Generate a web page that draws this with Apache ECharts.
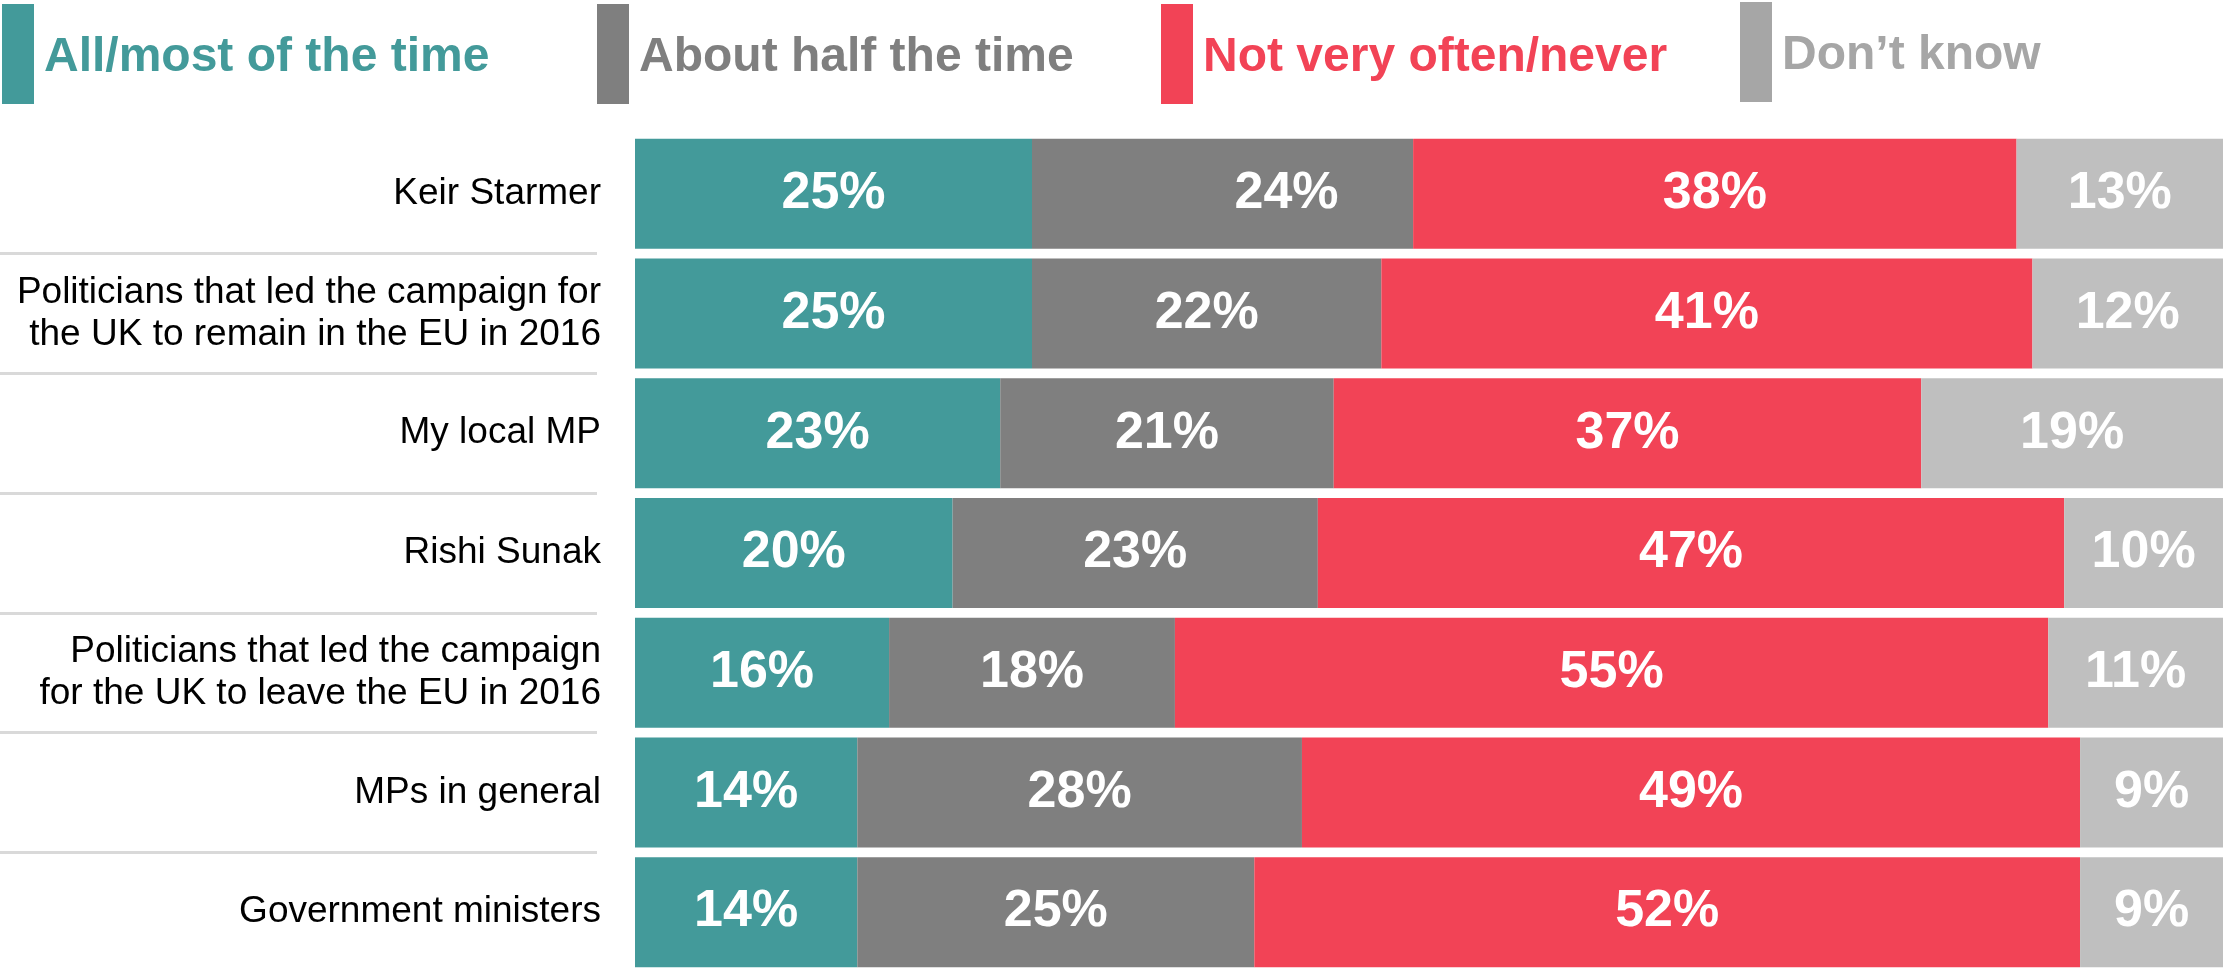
<!DOCTYPE html>
<html>
<head>
<meta charset="utf-8">
<script src="https://cdn.jsdelivr.net/npm/echarts@6/dist/echarts.min.js"></script>
<style>
html,body{margin:0;padding:0;background:#fff;}
#chart{width:2223px;height:972px;}
</style>
</head>
<body>
<div id="chart"></div>
<script>
const categories = [
  'Keir Starmer',
  'Politicians that led the campaign for\nthe UK to remain in the EU in 2016',
  'My local MP',
  'Rishi Sunak',
  'Politicians that led the campaign\nfor the UK to leave the EU in 2016',
  'MPs in general',
  'Government ministers'
];
const seriesNames = ['All/most of the time', 'About half the time', 'Not very often/never', 'Don\u2019t know'];
const allMost   = [25, 25, 23, 20, 16, 14, 14];
const aboutHalf = [24, 22, 21, 23, 18, 28, 25];
const notOften  = [38, 41, 37, 47, 55, 49, 52];
const dontKnow  = [13, 12, 19, 10, 11, 9, 9];

const values = [allMost, aboutHalf, notOften, dontKnow];
const barColors = ['#439A9A', '#7F7F7F', '#F24356', '#BFBFBF'];
const legendColors = ['#439A9A', '#7F7F7F', '#F24356', '#A6A6A6'];
const legendLeft = [2, 597, 1161, 1740];
const legendTop = [4, 4, 4, 2];
const FONT = '"Liberation Sans", Arial, sans-serif';

const chart = echarts.init(document.getElementById('chart'), null, {renderer: 'canvas'});

const series = values.map((vals, si) => ({
  name: seriesNames[si],
  type: 'bar',
  stack: 'total',
  xAxisIndex: 0,
  yAxisIndex: 0,
  barWidth: 110,
  itemStyle: {color: barColors[si]},
  label: {
    show: true,
    position: 'inside',
    formatter: p => p.value + '%',
    color: '#fff',
    fontFamily: FONT,
    fontWeight: 'bold',
    fontSize: 52
  },
  data: vals.map((v, i) => {
    // the reference nudges one label (row 1, "About half the time") to the right
    if (si === 1 && i === 0) return {value: v, label: {offset: [64, 0]}};
    return v;
  })
}));

const legends = seriesNames.map((n, i) => ({
  left: legendLeft[i],
  top: legendTop[i],
  padding: 0,
  orient: 'horizontal',
  selectedMode: false,
  itemWidth: 32,
  itemHeight: 100,
  icon: 'rect',
  data: [{name: n, itemStyle: {color: legendColors[i]}}],
  formatter: name => '{t|' + name + '}',
  textStyle: {
    color: legendColors[i],
    fontFamily: FONT,
    fontWeight: 'bold',
    fontSize: 48,
    rich: {
      t: {
        color: legendColors[i],
        fontFamily: FONT,
        fontWeight: 'bold',
        fontSize: 48,
        padding: [8, 0, 0, 5]
      }
    }
  }
}));

chart.setOption({
  animation: false,
  backgroundColor: '#fff',
  legend: legends,
  grid: [
    {left: 635, right: 0, top: 134, height: 846},
    {left: 0, width: 597, top: 134, height: 846}
  ],
  xAxis: [
    {type: 'value', gridIndex: 0, min: 0, max: 100, show: false},
    {type: 'value', gridIndex: 1, min: 0, max: 100, show: false}
  ],
  yAxis: [
    {
      type: 'category', gridIndex: 0, inverse: true, data: categories,
      axisLine: {show: false}, axisTick: {show: false}, splitLine: {show: false},
      axisLabel: {
        margin: 34, color: '#000', fontFamily: FONT, fontSize: 37, lineHeight: 42, align: 'right'
      }
    },
    {
      type: 'category', gridIndex: 1, inverse: true, data: categories,
      axisLine: {show: false}, axisTick: {show: false}, axisLabel: {show: false},
      splitLine: {show: true, showMinLine: false, showMaxLine: false, lineStyle: {color: '#D9D9D9', width: 3}}
    }
  ],
  series: series
});
</script>
</body>
</html>
